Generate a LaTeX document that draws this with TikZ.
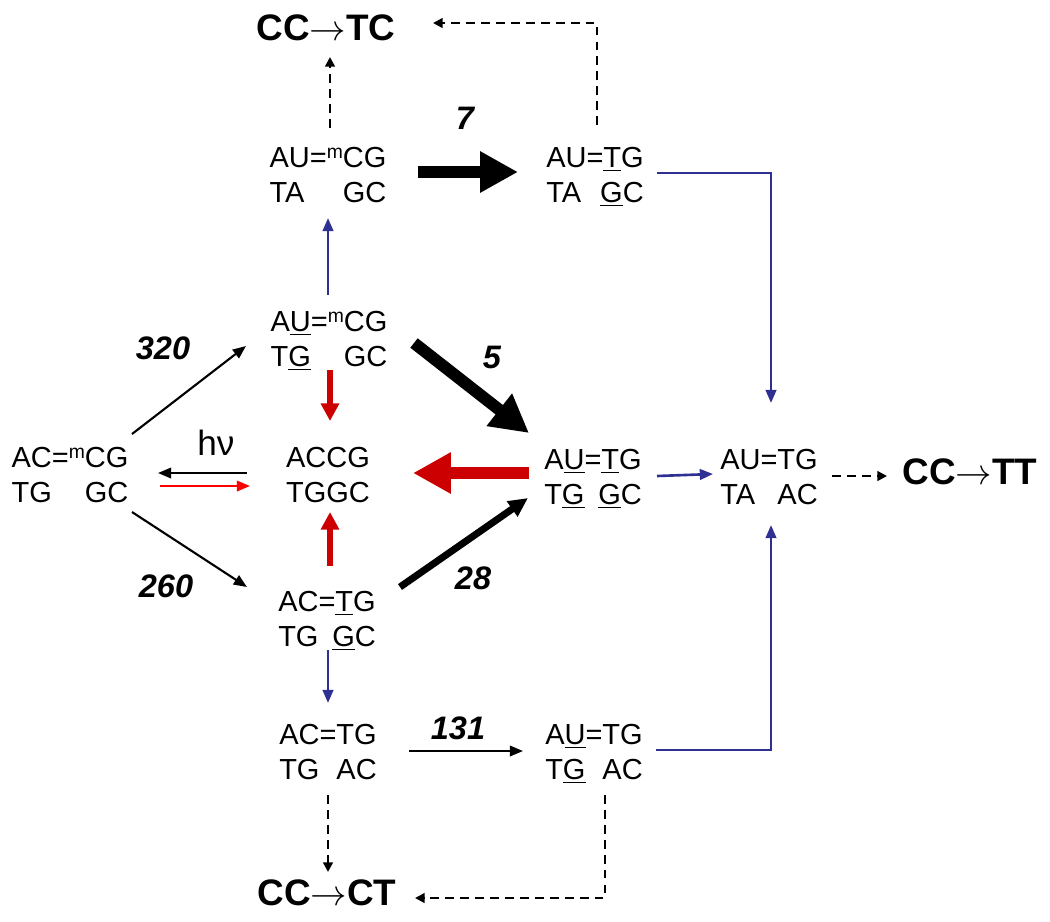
\documentclass[tikz,border=0pt]{standalone}
\usepackage{fontspec}
\setmainfont{Liberation Sans}
\usetikzlibrary{calc,arrows.meta}
\definecolor{pathblue}{RGB}{46,49,146}
\definecolor{darkred}{RGB}{204,0,0}
\newcommand{\dimpair}[2]{\begin{tabular}{@{}l@{}}#1\\#2\end{tabular}}
\newcommand{\meth}{\raisebox{0.3em}{\fontsize{11}{11}\selectfont m}}
\newcommand{\mutto}{\ensuremath{\rightarrow}}
\tikzset{
	dna/.style={inner sep=0pt, font=\fontsize{16.5}{19.8}\selectfont},
	outcome/.style={inner sep=0pt, font=\fontsize{21}{24}\selectfont\bfseries},
	ratelbl/.style={inner sep=0pt, font=\fontsize{18.5}{22}\selectfont\bfseries\itshape},
	thinarrow/.style={line width=1.2pt, -{Triangle[length=7.5pt,width=6pt]}},
	bluearrow/.style={pathblue, line width=1.5pt, -{Triangle[length=7.5pt,width=6pt]}},
	dasharrow/.style={line width=1.3pt, dash pattern=on 5pt off 3.5pt, -{Triangle[length=5.5pt,width=5.5pt]}},
	redarrow/.style={darkred, line width=3.4pt, -{Triangle[length=10pt,width=10pt]}},
	bigarrow/.style={line width=6.8pt, -{Triangle[length=21.5pt,width=22pt]}},
}

\begin{document}
\begin{tikzpicture}[x=0.02cm, y=-0.02cm]
		%%%%% START %%%%%
		\useasboundingbox (0, 0) rectangle (1050, 921);
		
		% dimers
		\node[dna] (start) at (70, 478) {\dimpair{AC=\meth CG}{TG\hfill GC}};
		\node[dna] (deamA) at (329, 342) {\dimpair{A\underline{U}=\meth CG}{T\underline{G}\hfill GC}};
		\node[dna] (repA) at (328, 178) {\dimpair{AU=\meth CG}{TA\hfill GC}};
		\node[dna] (open) at (328, 478) {\dimpair{ACCG}{TGGC}};
		\node[dna] (deamB) at (327, 622) {\dimpair{AC=\underline{T}G}{TG\hfill \underline{G}C}};
		\node[dna] (deamAB) at (593, 480) {\dimpair{A\underline{U}=\underline{T}G}{T\underline{G}\hfill \underline{G}C}};
		\node[dna] (repAB) at (595, 178) {\dimpair{AU=\underline{T}G}{TA\hfill \underline{G}C}};
		\node[dna] (final) at (769, 480) {\dimpair{AU=TG}{TA\hfill AC}};
		\node[dna] (repB) at (328, 755) {\dimpair{AC=TG}{TG\hfill AC}};
		\node[dna] (repBU) at (594, 755) {\dimpair{A\underline{U}=TG}{T\underline{G}\hfill AC}};
		
		% mutations
		\node[outcome] (ccTC) at (326, 28) {CC\mutto TC};
		\node[outcome] (ccTT) at (970, 472) {CC\mutto TT};
		\node[outcome] (ccCT) at (327, 893) {CC\mutto CT};
		
		% rates
		\node[ratelbl] (rate7) at (465, 118) {7};
		\node[ratelbl] (rate320) at (163, 348) {320};
		\node[ratelbl] (rate260) at (166, 586) {260};
		\node[ratelbl] (rate5) at (492, 357) {5};
		\node[ratelbl] (rate28) at (473, 578) {28};
		\node[ratelbl] (rate131) at (458, 728) {131};
		\node[font=\fontsize{20}{22}\selectfont, inner sep=0pt] (hnu) at (216, 443) {hν};
		
		% deamination / photoreversal
		\draw[thinarrow] ($(start)+(62,-44)$) -- ($(deamA)+(-83,4)$);
		\draw[thinarrow] ($(start)+(62,34)$) -- ($(deamB)+(-80,-35)$);
		\draw[thinarrow] ($(open)+(-81,-5)$) -- ($(start)+(88,-5)$);
		\draw[thinarrow, red] ($(start)+(90,8)$) -- ($(open)+(-78,8)$);
		\draw[redarrow] ($(deamA)+(1,28)$) -- ($(open)+(2,-57)$);
		\draw[redarrow] ($(deamB)+(3,-56)$) -- ($(open)+(2,34)$);
		\draw[bigarrow, darkred] ($(deamAB)+(-64,-7)$) -- ($(open)+(85,-5)$);
		\draw[bigarrow] ($(repA)+(90,-6)$) -- ($(repAB)+(-77,-6)$);
		\draw[bigarrow] ($(deamA)+(85,1)$) -- ($(deamAB)+(-64,-47)$);
		\draw[line width=4pt, -{Triangle[length=11pt,width=10pt]}] ($(deamB)+(73,-35)$) -- ($(deamAB)+(-65,18)$);
		\draw[thinarrow] ($(repB)+(81,-4)$) -- ($(repBU)+(-71,-4)$);
		
		% replication
		\draw[bluearrow] ($(deamA)+(-1,-47)$) -- ($(repA)+(0,40)$);
		\draw[bluearrow] ($(deamB)+(1,28)$) -- ($(repB)+(0,-52)$);
		\draw[bluearrow] ($(deamAB)+(64,-4)$) -- ($(final)+(-56,-6)$);
		\draw[bluearrow] ($(repAB)+(62,-5)$) -| ($(final)+(2,-77)$);
		\draw[bluearrow] ($(repBU)+(62,-5)$) -| ($(final)+(2,45)$);
		
		% outcomes
		\draw[dasharrow] ($(repA)+(2,-50)$) -- ($(ccTC)+(4,29)$);
		\draw[dasharrow] ($(repAB)+(2,-53)$) |- ($(ccTC)+(107,-5)$);
		\draw[dasharrow] ($(final)+(63,-4)$) -- ($(ccTT)+(-83,4)$);
		\draw[dasharrow] ($(repB)+(0,40)$) -- ($(ccCT)+(1,-21)$);
		\draw[dasharrow] ($(repBU)+(11,40)$) |- ($(ccCT)+(88,5)$);
		%%%%% END %%%%%
\end{tikzpicture}
\end{document}
